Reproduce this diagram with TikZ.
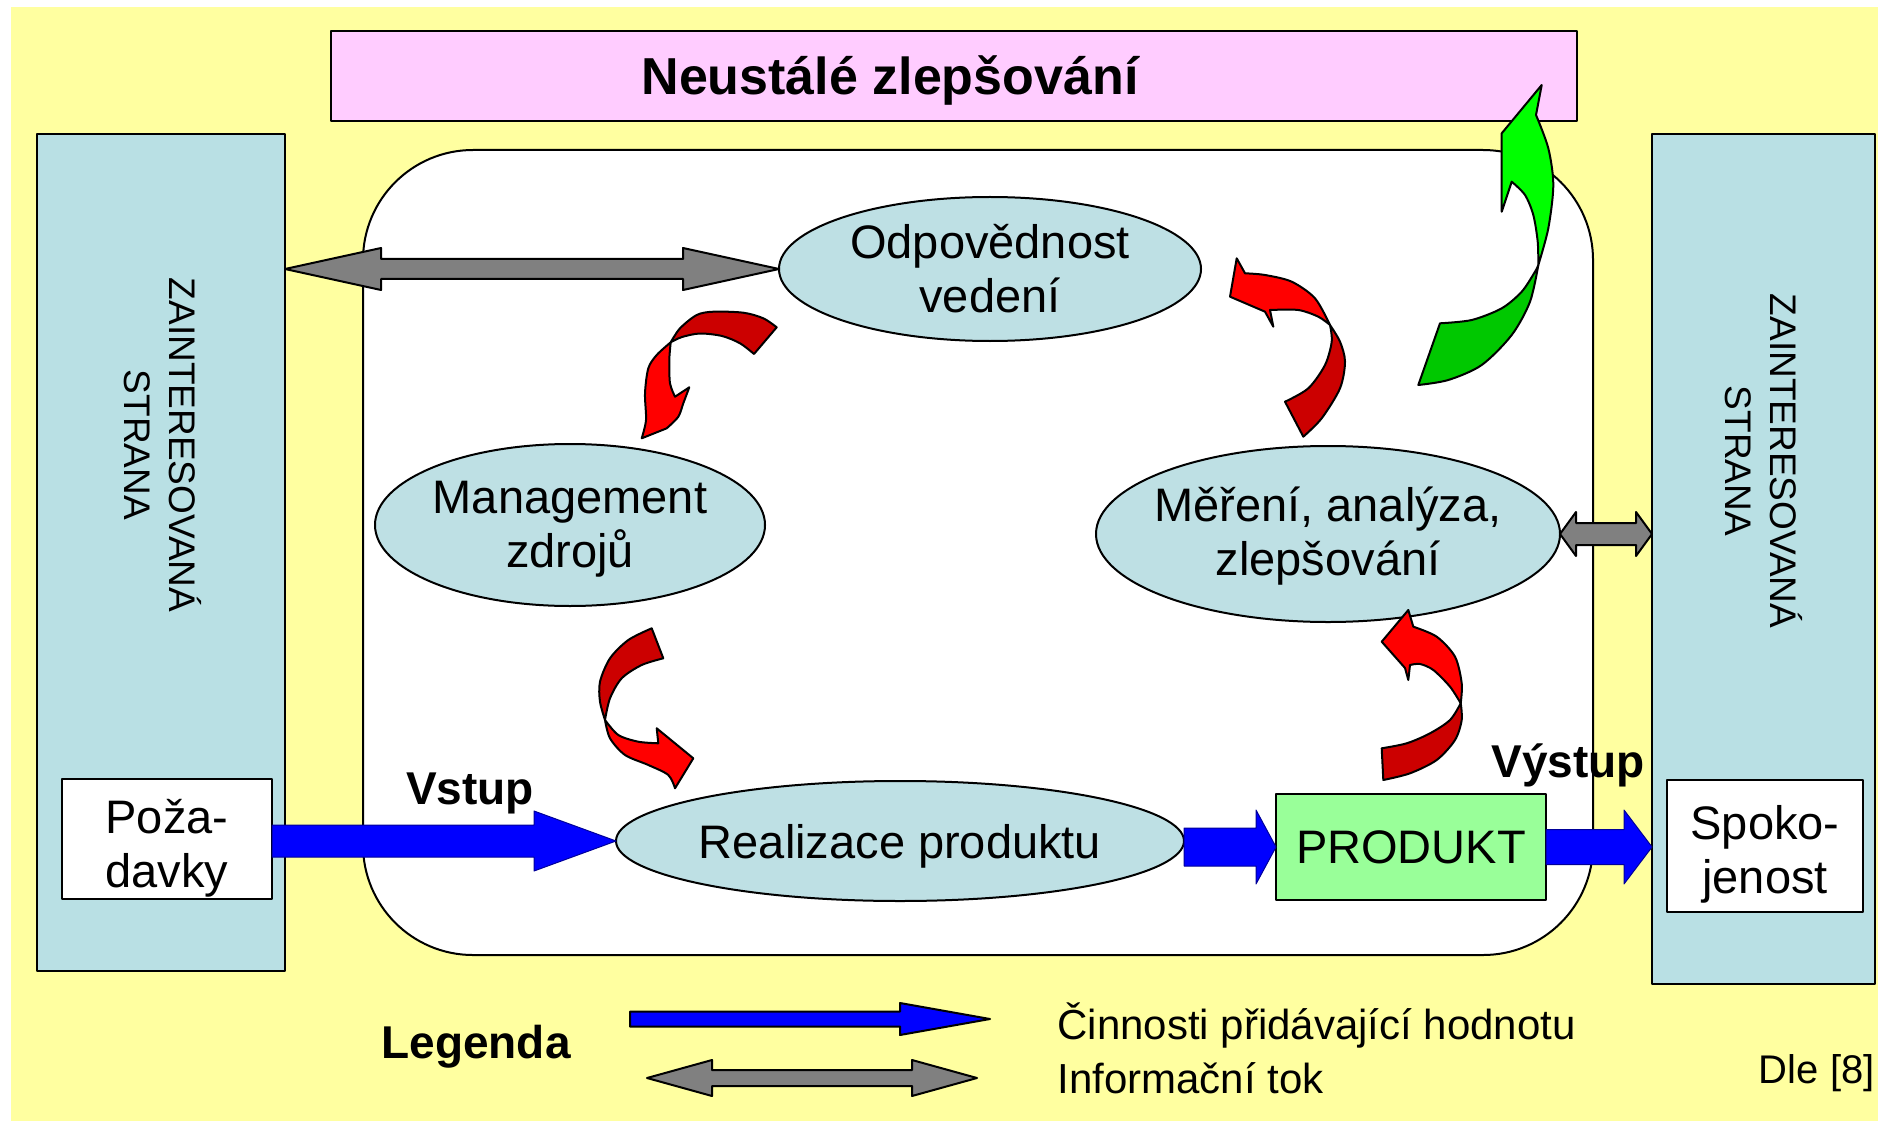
\documentclass[tikz,border=0pt]{standalone}
\usepackage{fontspec}
\setmainfont{Liberation Sans}
\usetikzlibrary{shapes.geometric,calc}
\definecolor{bgyellow}{RGB}{255,255,160}
\definecolor{pinkbox}{RGB}{255,204,255}
\definecolor{sideblue}{RGB}{185,224,228}
\definecolor{ellblue}{RGB}{190,224,228}
\definecolor{prodgreen}{RGB}{153,255,153}
\definecolor{grayA}{RGB}{128,128,128}
\definecolor{redL}{RGB}{255,0,0}
\definecolor{redD}{RGB}{204,0,0}
\definecolor{grnL}{RGB}{0,255,0}
\definecolor{grnD}{RGB}{0,200,0}
\definecolor{blueA}{RGB}{0,0,255}
\newcommand{\fEll}{\fontsize{18.8}{21.6}\selectfont}
\newcommand{\fSide}{\fontsize{14.8}{18}\selectfont}
\newcommand{\fBold}{\bfseries\fontsize{18.4}{22}\selectfont}
\newcommand{\fLeg}{\fontsize{16.8}{20}\selectfont}
\newcommand{\fDle}{\fontsize{16}{19}\selectfont}
% single-headed horizontal block arrow: from, to, shaft half, head half, head length (px), style
\newcommand\harrowx[6]{\path[#6] let \p1=(#1), \p2=(#2) in
  (\x1,\y2+#3*0.4pt) -- (\x2-#5*0.4pt,\y2+#3*0.4pt) -- (\x2-#5*0.4pt,\y2+#4*0.4pt) -- (\x2,\y2)
  -- (\x2-#5*0.4pt,\y2-#4*0.4pt) -- (\x2-#5*0.4pt,\y2-#3*0.4pt) -- (\x1,\y2-#3*0.4pt) -- cycle;}
% double-headed horizontal block arrow
\newcommand\dharrowx[6]{\path[#6] let \p1=(#1), \p2=(#2) in
  (\x1,\y2) -- (\x1+#5*0.4pt,\y2+#4*0.4pt) -- (\x1+#5*0.4pt,\y2+#3*0.4pt) -- (\x2-#5*0.4pt,\y2+#3*0.4pt)
  -- (\x2-#5*0.4pt,\y2+#4*0.4pt) -- (\x2,\y2) -- (\x2-#5*0.4pt,\y2-#4*0.4pt) -- (\x2-#5*0.4pt,\y2-#3*0.4pt)
  -- (\x1+#5*0.4pt,\y2-#3*0.4pt) -- (\x1+#5*0.4pt,\y2-#4*0.4pt) -- cycle;}
\begin{document}
\begin{tikzpicture}[x=0.4pt,y=-0.4pt,line join=round,
  box/.style={draw=black,line width=0.8pt,inner sep=0pt,outer sep=0pt},
  ell/.style={ellipse,draw=black,fill=ellblue,line width=0.8pt,inner sep=0pt,outer sep=0pt},
  etext/.style={align=center,font=\fEll,inner sep=0pt},
  barrow/.style={fill=blueA,draw=blue!60!black,line width=0.4pt},
  garrow/.style={fill=grayA,draw=black,line width=0.8pt},
  curvD/.style={draw=black,line width=0.8pt},
  lbl/.style={inner sep=0pt}]
\fill[white] (0,0) rectangle (1878,1125);
\useasboundingbox (0,0) rectangle (1878,1125);
\fill[bgyellow] (11,7) rectangle (1878,1121);
% top banner
\node[box,fill=pinkbox,minimum width=498.4pt,minimum height=36pt,anchor=north west] (pk) at (331,31) {};
\node[lbl,font=\bfseries\fontsize{20.8}{24}\selectfont,anchor=base] (pkT) at (890,95) {Neustálé zlepšování};
% side columns
\node[box,fill=sideblue,minimum width=99.2pt,minimum height=334.8pt,anchor=north west] (ls) at (37,134) {};
\node[box,fill=sideblue,minimum width=89.2pt,minimum height=340pt,anchor=north west] (rs) at (1652,134) {};
\node[lbl,rotate=-90,align=center,font=\fSide] (lsT) at (163,445) {ZAINTERESOVANÁ\\STRANA};
\node[lbl,rotate=-90,align=center,font=\fSide] (rsT) at (1764,461) {ZAINTERESOVANÁ\\STRANA};
% inner rounded region
\node[box,fill=white,rounded corners=44pt,minimum width=492pt,minimum height=322pt,anchor=north west] (inner) at (363,150) {};
% ellipses
\node[ell,minimum width=168.8pt,minimum height=57.6pt] (odp) at (990,269) {};
\node[etext] (odpT) at (odp) {Odpovědnost\\vedení};
\node[ell,minimum width=156pt,minimum height=64.8pt] (mgmt) at (570,525) {};
\node[etext] (mgmtT) at ($(mgmt)+(0,4)$) {Management\\zdrojů};
\node[ell,minimum width=185.6pt,minimum height=70.4pt] (mer) at (1328,534) {};
\node[etext] (merT) at ($(mer)+(0,2)$) {Měření, analýza,\\zlepšování};
\node[ell,minimum width=227.2pt,minimum height=48pt] (real) at (900,841) {};
\node[etext] (realT) at ($(real)+(0,5)$) {Realizace produktu};
% boxes
\node[box,fill=prodgreen,minimum width=108pt,minimum height=42.4pt,font=\fEll] (prod) at (1411,847) {PRODUKT};
\node[box,fill=white,minimum width=84pt,minimum height=48pt] (poz) at (167,839) {};
\node[etext] (pozT) at ($(poz)+(0,9)$) {Poža-\\davky};
\node[box,fill=white,minimum width=78.4pt,minimum height=52.8pt] (spk) at (1765,846) {};
\node[etext] (spkT) at ($(spk)+(0,8)$) {Spoko-\\jenost};
% straight arrows
\harrowx{poz.east}{real.west}{16}{30}{82}{barrow}
\harrowx{real.east}{prod.west}{19}{37}{20}{barrow}
\coordinate (rsIn) at (prod.east -| rs.west);
\harrowx{prod.east}{rsIn}{17.5}{37}{28}{barrow}
\coordinate (lsOut) at (odp.west -| ls.east);
\dharrowx{lsOut}{odp.west}{10}{21}{96}{garrow}
\coordinate (rsIn2) at (mer.east -| rs.west);
\dharrowx{mer.east}{rsIn2}{11}{22}{16}{garrow}
% labels
\node[lbl,font=\fBold,anchor=base] (vst) at (470,804) {Vstup};
\node[lbl,font=\fBold,anchor=base] (vys) at (1568,777) {Výstup};
% curved arrow 1 (vedení -> management)
\path[curvD,fill=redD] plot[smooth] coordinates {(776.7,327.3) (763.3,318.3) (743.3,312.7) (713.3,311.7) (696.7,315) (680,328.3) (670.7,342.3)}
  -- plot[smooth] coordinates {(670.7,342.3) (682,337) (700,333.5) (722,336) (740,343.3) (754,354)} -- cycle;
\path[curvD,fill=redL] plot[smooth] coordinates {(670.7,342.3) (656.7,355) (648.3,368.3) (645,393.3) (646,420) (641.7,438.3)}
  -- (666.7,428.3) -- plot[smooth] coordinates {(666.7,428.3) (678.3,416.7) (683.3,403.3) (689.3,387.3)}
  -- (675,396.7) -- plot[smooth] coordinates {(675,396.7) (670,383.3) (669.3,360) (670.7,342.3)} -- cycle;
% curved arrow 2 (management -> realizace)
\path[curvD,fill=redD] plot[smooth] coordinates {(651.7,628.3) (628.3,640) (610,658.3) (600,681.7) (600,701.7) (605,720)}
  -- plot[smooth] coordinates {(605,720) (610,698.3) (621.7,678.3) (641.7,665) (663.3,658.3)} -- cycle;
\path[curvD,fill=redL] plot[smooth] coordinates {(605,720) (618.3,735) (638.3,741.7) (658.3,743.3)}
  -- (656.7,728.3) -- (693.3,758.3) -- (675,788.3)
  -- plot[smooth] coordinates {(675,788.3) (668.3,775) (648.3,765) (625,755) (610,738.3) (605,720)} -- cycle;
% curved arrow 3 (produkt -> měření)
\path[curvD,fill=redD] plot[smooth] coordinates {(1383.3,780) (1410,773.3) (1436.7,760) (1455,740) (1461.7,720) (1460.7,703.3)}
  -- plot[smooth] coordinates {(1460.7,703.3) (1450,720) (1430,733.3) (1406.7,743.3) (1381.7,748.3)} -- cycle;
\path[curvD,fill=redL] plot[smooth] coordinates {(1460.7,703.3) (1461.7,683.3) (1455,656.7) (1436.7,636.7) (1413.3,626.7)}
  -- (1408.3,610) -- (1381.7,641.7) -- (1405,668) -- (1408.3,680)
  -- plot[smooth] coordinates {(1410,665) (1420,664) (1433.3,670) (1450,686.7) (1460.7,703.3)} -- cycle;
% curved arrow 4 (měření -> vedení)
\path[curvD,fill=redD] plot[smooth] coordinates {(1303.3,436.7) (1321.7,418.3) (1340,388.3) (1345,361.7) (1340,341.7) (1330,325)}
  -- plot[smooth] coordinates {(1330,325) (1331.7,341.7) (1325,365) (1308.3,388.3) (1285,401.7)} -- cycle;
\path[curvD,fill=redL] plot[smooth] coordinates {(1330,325) (1315,298.3) (1291.7,281.7) (1265,275) (1245,273.3)}
  -- (1236.7,258.3) -- (1230,296.7) -- (1265,311.7) -- (1273.3,326.7)
  -- plot[smooth] coordinates {(1270,310) (1298.3,310) (1318.3,316.7) (1330,325)} -- cycle;
% green arrow
\path[curvD,fill=grnD] plot[smooth] coordinates {(1418.3,385) (1448.3,380) (1481.7,365) (1511.7,335) (1530,301.7) (1538.3,265)}
  -- plot[smooth] coordinates {(1538.3,265) (1535,271.7) (1521.7,291.7) (1501.7,308.3) (1471.7,320) (1440,323.3)} -- cycle;
\path[curvD,fill=grnL] plot[smooth] coordinates {(1538.3,265) (1548.3,228.3) (1553.3,185) (1548.3,148.3) (1536,115)}
  -- (1541.7,85) -- (1501.7,133.3) -- (1501.7,211.7)
  -- plot[smooth] coordinates {(1511.7,181.7) (1525,195) (1533.3,215) (1537.7,241.7) (1538.3,265)} -- cycle;
% legend
\node[lbl,font=\fBold,anchor=base] (leg) at (476,1058) {Legenda};
\coordinate (lb1) at (630,1019);
\coordinate (lb2) at (990,1019);
\harrowx{lb1}{lb2}{7.5}{16}{90}{barrow,draw=black,line width=0.8pt}
\coordinate (lg1) at (647,1078);
\coordinate (lg2) at (977,1078);
\dharrowx{lg1}{lg2}{8}{18}{65}{garrow}
\node[lbl,font=\fLeg,anchor=base west] (leg1) at (1057,1039) {Činnosti přidávající hodnotu};
\node[lbl,font=\fLeg,anchor=base west] (leg2) at (1057,1093) {Informační tok};
\node[lbl,font=\fDle,anchor=base east] (dle) at (1875,1083) {Dle [8]};
\end{tikzpicture}
\end{document}
